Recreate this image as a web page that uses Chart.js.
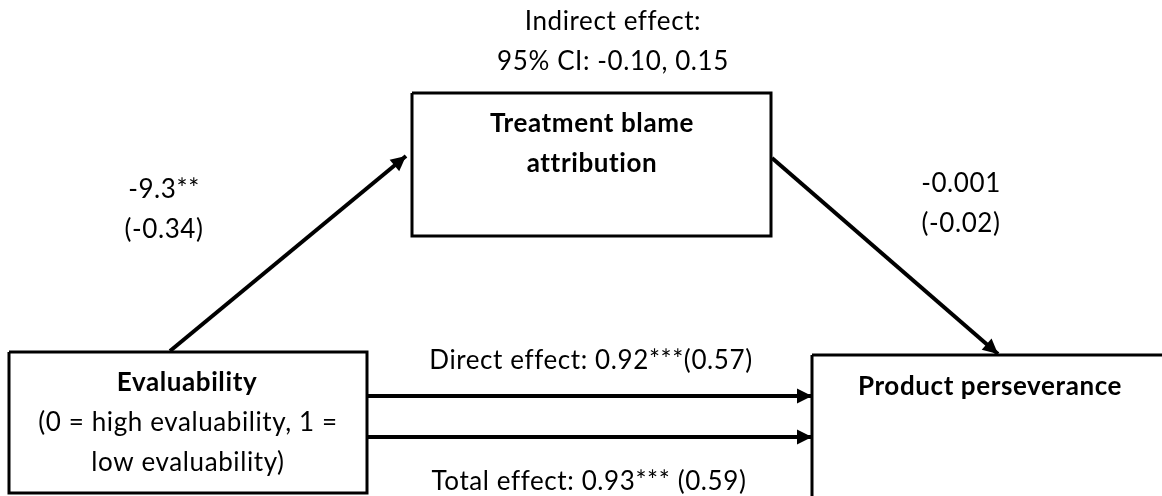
<!DOCTYPE html>
<html>
<head>
<meta charset="utf-8">
<script src="https://cdn.jsdelivr.net/npm/chart.js@4"></script>
<style>
  html, body { margin: 0; padding: 0; background: #fff; }
  #wrap { width: 1162px; height: 496px; }
</style>
</head>
<body>
<div id="wrap"><canvas id="c" width="1162" height="496"></canvas></div>
<script>
// Variables of the mediation model
const nodeIds = ['x', 'm', 'y'];
const nodeTitles = ['Evaluability', 'Treatment blame\nattribution', 'Product perseverance'];
const nodeNotes = ['(0 = high evaluability, 1 =\nlow evaluability)', '', ''];

// Path estimates: unstandardized coefficient with standardized in brackets
const pathIds = ['a', 'b', 'direct', 'total'];
const pathFrom = ['x', 'm', 'x', 'x'];
const pathTo = ['m', 'y', 'y', 'y'];
const pathLabels = ['-9.3**\n(-0.34)', '-0.001\n(-0.02)', 'Direct effect: 0.92***(0.57)', 'Total effect: 0.93*** (0.59)'];
const indirectLabel = 'Indirect effect:\n95% CI: -0.10, 0.15';

// Diagram layout (canvas units, y grows downward)
const layout = {
  boxes: {
    x: { l: 9, t: 352, r: 367, b: 493 },
    m: { l: 412, t: 93, r: 771, b: 236 },
    y: { l: 812, t: 355, r: 1175, b: 510 }
  },
  titles: {
    x: { cx: 187, y: 383 },
    m: { cx: 592, y: 124 },
    y: { cx: 990, y: 387 }
  },
  notes: { x: { cx: 188, y: 423 } },
  paths: {
    a:      { x1: 170, y1: 351, x2: 406, y2: 156, lx: 164, ly: 190 },
    b:      { x1: 772, y1: 158, x2: 998, y2: 354, lx: 961, ly: 184 },
    direct: { x1: 367, y1: 396, x2: 812, y2: 396, lx: 591, ly: 361 },
    total:  { x1: 367, y1: 437, x2: 812, y2: 437, lx: 589, ly: 482 }
  },
  indirect: { cx: 613, y: 22 },
  lineGap: 40
};

const FONT = '"Lato", "Open Sans", sans-serif';
const FONT_SIZE = 26;
const LETTER_SPACING = '0.6px';

function boxPoints(b) {
  return [{x: b.l, y: b.t}, {x: b.r, y: b.t}, {x: b.r, y: b.b}, {x: b.l, y: b.b}, {x: b.l, y: b.t}];
}

const datasets = [];
nodeIds.forEach(id => {
  datasets.push({
    label: 'box-' + id,
    data: boxPoints(layout.boxes[id]),
    borderColor: '#000', borderWidth: 3, showLine: true,
    pointRadius: 0, fill: false, tension: 0, clip: false,
    borderJoinStyle: 'miter'
  });
});
pathIds.forEach(id => {
  const p = layout.paths[id];
  datasets.push({
    label: 'path-' + id,
    data: [{x: p.x1, y: p.y1}, {x: p.x2, y: p.y2}],
    borderColor: '#000', borderWidth: 4, showLine: true,
    pointRadius: 0, fill: false, tension: 0, clip: false,
    arrow: true
  });
});

// Arrowheads at path ends plus every text label, placed through the scales
const diagramText = {
  id: 'diagramText',
  afterDatasetsDraw(chart) {
    const ctx = chart.ctx;
    const sx = chart.scales.x, sy = chart.scales.y;
    ctx.save();
    ctx.fillStyle = '#000';

    chart.data.datasets.forEach((ds, i) => {
      if (!ds.arrow) return;
      const meta = chart.getDatasetMeta(i);
      const p0 = meta.data[0], p1 = meta.data[1];
      const ang = Math.atan2(p1.y - p0.y, p1.x - p0.x);
      const len = 15, half = 7.5;
      ctx.beginPath();
      ctx.moveTo(p1.x, p1.y);
      ctx.lineTo(p1.x - len * Math.cos(ang) + half * Math.sin(ang), p1.y - len * Math.sin(ang) - half * Math.cos(ang));
      ctx.lineTo(p1.x - len * Math.cos(ang) - half * Math.sin(ang), p1.y - len * Math.sin(ang) + half * Math.cos(ang));
      ctx.closePath();
      ctx.fill();
    });

    ctx.textAlign = 'center';
    ctx.textBaseline = 'middle';
    if ('letterSpacing' in ctx) ctx.letterSpacing = LETTER_SPACING;
    const lines = (txt, cx, y, bold) => {
      ctx.font = (bold ? 'bold ' : '') + FONT_SIZE + 'px ' + FONT;
      txt.split('\n').forEach((t, k) => {
        ctx.fillText(t, sx.getPixelForValue(cx), sy.getPixelForValue(y + k * layout.lineGap));
      });
    };

    nodeIds.forEach((id, i) => {
      const t = layout.titles[id];
      lines(nodeTitles[i], t.cx, t.y, true);
      if (nodeNotes[i]) lines(nodeNotes[i], layout.notes[id].cx, layout.notes[id].y, false);
    });
    pathIds.forEach((id, i) => {
      const p = layout.paths[id];
      lines(pathLabels[i], p.lx, p.ly, false);
    });
    lines(indirectLabel, layout.indirect.cx, layout.indirect.y, false);
    ctx.restore();
  }
};

new Chart(document.getElementById('c'), {
  type: 'scatter',
  data: { datasets },
  options: {
    responsive: false,
    animation: false,
    layout: { padding: 0 },
    plugins: { legend: { display: false }, tooltip: { enabled: false } },
    scales: {
      x: { type: 'linear', min: 0, max: 1162, display: false },
      y: { type: 'linear', min: 0, max: 496, reverse: true, display: false }
    }
  },
  plugins: [diagramText]
});
</script>
</body>
</html>
